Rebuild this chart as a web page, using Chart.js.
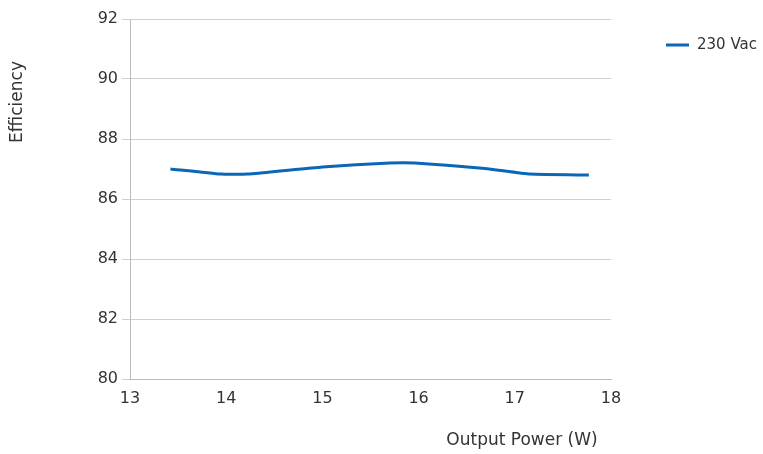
<!DOCTYPE html>
<html><head><meta charset="utf-8">
<script src="https://cdn.jsdelivr.net/npm/chart.js@4"></script>
<style>html,body{margin:0;padding:0;background:#fff}#wrap{width:763px;height:454px}</style>
</head><body><div id="wrap"><canvas id="c" width="763" height="454"></canvas></div>
<script>
const seriesLabel = "230 Vac";
const outputPower = [13.42, 13.94, 14.22, 15.0, 15.7, 15.96, 16.69, 17.16, 17.77];
const efficiency = [87.0, 86.83, 86.83, 87.07, 87.2, 87.2, 87.02, 86.83, 86.8];
const xTitle = "Output Power (W)";
const yTitle = "Efficiency";

const FONT = "'DejaVu Sans', sans-serif";
const lineColor = "#0a67b7";
const textColor = "#333";

const titles = {
  id: "titles",
  afterDraw(chart) {
    const ctx = chart.ctx;
    ctx.save();
    ctx.fillStyle = textColor;
    ctx.font = "17px " + FONT;
    ctx.textBaseline = "middle";
    ctx.textAlign = "center";
    ctx.fillText(xTitle, 522, 441);
    ctx.translate(18, 102);
    ctx.rotate(-Math.PI / 2);
    ctx.fillText(yTitle, 0, 0);
    ctx.restore();
    // legend
    ctx.save();
    ctx.strokeStyle = lineColor;
    ctx.lineWidth = 3;
    ctx.beginPath();
    ctx.moveTo(666, 45);
    ctx.lineTo(689, 45);
    ctx.stroke();
    ctx.fillStyle = textColor;
    ctx.font = "15px " + FONT;
    ctx.textBaseline = "middle";
    ctx.textAlign = "left";
    ctx.fillText(chart.data.datasets[0].label, 697, 45);
    ctx.restore();
  }
};

new Chart(document.getElementById("c"), {
  type: "line",
  data: {
    datasets: [{
      label: seriesLabel,
      data: outputPower.map((x, i) => ({x, y: efficiency[i]})),
      borderColor: lineColor,
      backgroundColor: lineColor,
      borderWidth: 3,
      pointRadius: 0,
      tension: 0.15,
      fill: false
    }]
  },
  options: {
    responsive: false,
    animation: false,
    devicePixelRatio: 1,
    layout: {padding: {left: 0, right: 152, top: 19, bottom: 0}},
    plugins: {legend: {display: false}, tooltip: {enabled: false}},
    scales: {
      x: {
        type: "linear", min: 13, max: 18,
        ticks: {stepSize: 1, color: textColor, font: {family: FONT, size: 16}, padding: 2},
        grid: {display: false},
        border: {display: true, color: "#bbb", width: 1},
        afterFit(s) { s.height = 75; }
      },
      y: {
        min: 80, max: 92,
        ticks: {stepSize: 2, color: textColor, font: {family: FONT, size: 16}, padding: 4},
        grid: {color: "#cfcfcf", lineWidth: 1, tickLength: 8, drawTicks: true},
        border: {display: true, color: "#bbb", width: 1},
        afterFit(s) { s.width = 130; }
      }
    }
  },
  plugins: [titles]
});
</script>
</body></html>
